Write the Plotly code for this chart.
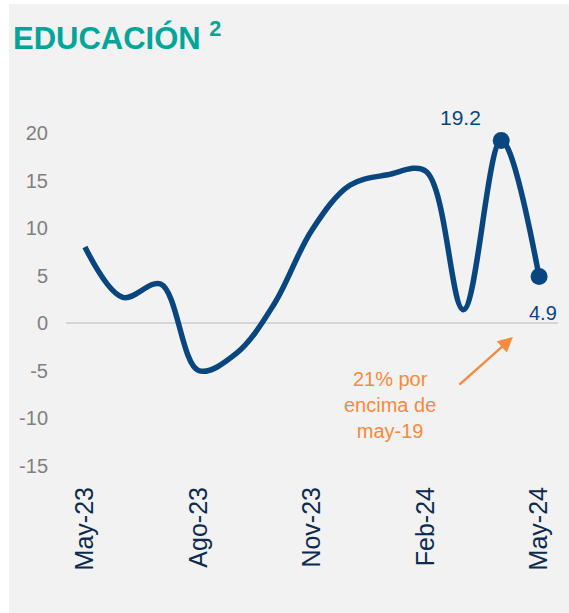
import plotly.graph_objects as go

months = ["May-23", "Jun-23", "Jul-23", "Ago-23", "Sep-23", "Oct-23", "Nov-23",
          "Dic-23", "Ene-24", "Feb-24", "Mar-24", "Abr-24", "May-24"]
values = [8.0, 2.7, 4.1, -5.0, -3.2, 2.0, 9.8, 14.5, 15.6, 16.0, 1.4, 19.2, 4.9]
tick_labels = ["May-23", "Ago-23", "Nov-23", "Feb-24", "May-24"]
y_ticks = [-15, -10, -5, 0, 5, 10, 15, 20]
y_tick_text = ["-15", "-10", "-5", "0", "5", "10", "15", "20"]
note_text = "21% por<br>encima de<br>may-19"

W, H = 569, 613
L, R, T, B = 66, 11, 114, 138
pw, ph = W - L - R, H - T - B


def px_x(p):
    return (p - L) / pw


def px_y(p):
    return (H - B - p) / ph


NAVY = "#09467f"
ORANGE = "#f58b3f"
FONT = "Liberation Sans, Arial, sans-serif"

fig = go.Figure()
fig.add_trace(go.Scatter(
    x=months, y=values, mode="lines",
    line=dict(color=NAVY, width=5.5, shape="spline", smoothing=1.0),
    hoverinfo="skip", showlegend=False, cliponaxis=False,
))
fig.add_trace(go.Scatter(
    x=months[-2:], y=values[-2:], mode="markers",
    marker=dict(color=NAVY, size=17),
    hoverinfo="skip", showlegend=False, cliponaxis=False,
))

# white strips outside the grey panel (left and top)
fig.add_shape(type="rect", xref="paper", yref="paper",
              x0=px_x(-5), x1=px_x(9), y0=px_y(H + 5), y1=px_y(-5),
              fillcolor="white", line=dict(width=0), layer="below")
fig.add_shape(type="rect", xref="paper", yref="paper",
              x0=px_x(-5), x1=px_x(W + 5), y0=px_y(4), y1=px_y(-5),
              fillcolor="white", line=dict(width=0), layer="below")

annotations = [
    dict(x=9.92, y=21.6, xref="x", yref="y", text=f"{values[11]:.1f}",
         showarrow=False, font=dict(family=FONT, size=21, color=NAVY)),
    dict(x=12.1, y=1.05, xref="x", yref="y", text=f"{values[12]:.1f}",
         showarrow=False, font=dict(family=FONT, size=20, color=NAVY)),
    dict(x=8.06, y=-8.6, xref="x", yref="y", text=note_text,
         showarrow=False, font=dict(family=FONT, size=20, color=ORANGE)),
    dict(x=11.31, y=-1.47, xref="x", yref="y", text="", showarrow=True,
         ax=-55, ay=49, arrowhead=2, arrowsize=1.2, arrowwidth=2.5,
         arrowcolor=ORANGE),
    dict(x=px_x(11), y=px_y(14), xref="paper", yref="paper",
         text="<b>EDUCACIÓN <sup>2</sup></b>", showarrow=False,
         xanchor="left", yanchor="top",
         font=dict(family=FONT, size=31, color="#00a599")),
]

fig.update_layout(
    width=W, height=H,
    margin=dict(l=L, r=R, t=T, b=B, pad=0),
    paper_bgcolor="#f2f2f2", plot_bgcolor="rgba(0,0,0,0)",
    annotations=annotations,
    xaxis=dict(
        type="category", range=[-0.5, 12.5],
        tickmode="array", tickvals=tick_labels, ticktext=tick_labels,
        tickangle=-90, showgrid=False, zeroline=False, showline=False,
        ticks="outside", ticklen=1, tickcolor="rgba(0,0,0,0)",
        tickfont=dict(family=FONT, size=25, color="#0d2a4f"),
    ),
    yaxis=dict(
        range=[-16, 22], tickmode="array", tickvals=y_ticks, ticktext=y_tick_text,
        showgrid=False, zeroline=True, zerolinecolor="#d6d6d6", zerolinewidth=2,
        showline=False, ticks="outside", ticklen=13, tickcolor="rgba(0,0,0,0)",
        tickfont=dict(family=FONT, size=20, color="#808080"),
    ),
)

fig.write_html("out.html", config={"displayModeBar": False},
               post_script="document.body.style.margin='0';document.body.style.overflow='hidden';")
